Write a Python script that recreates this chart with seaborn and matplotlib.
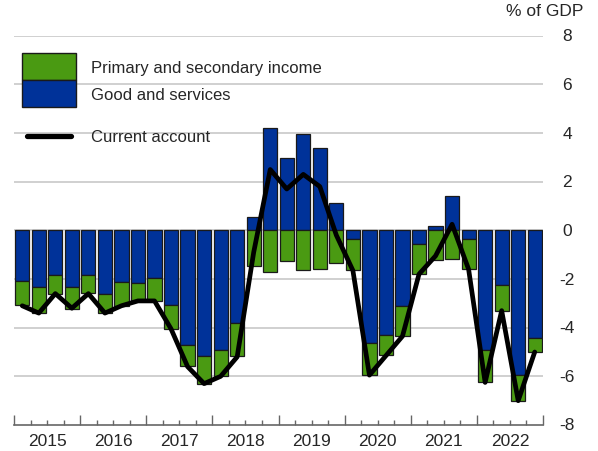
import matplotlib
matplotlib.use("Agg")
import matplotlib.pyplot as plt
from matplotlib.patches import Rectangle
from matplotlib.lines import Line2D
from matplotlib.transforms import blended_transform_factory
import seaborn as sns
import numpy as np
import pandas as pd

# 2015 Q1 ... 2022 Q4
years = [str(y) for y in range(2015, 2023)]
quarters = [f"{y}Q{q}" for y in years for q in range(1, 5)]

goods_services = [-2.08, -2.32, -1.84, -2.33, -1.84, -2.63, -2.12, -2.15,
                  -1.95, -3.08, -4.71, -5.16, -4.93, -3.81, 0.55, 4.20,
                  2.96, 3.96, 3.38, 1.14, -0.37, -4.62, -4.32, -3.11,
                  -0.58, 0.18, 1.41, -0.34, -4.92, -2.26, -5.96, -4.41]
income = [-1.00, -1.06, -0.77, -0.89, -0.75, -0.75, -0.98, -0.75,
          -0.96, -0.99, -0.87, -1.17, -1.06, -1.37, -1.47, -1.70,
          -1.26, -1.65, -1.58, -1.33, -1.27, -1.34, -0.82, -1.23,
          -1.20, -1.23, -1.16, -1.26, -1.31, -1.06, -1.05, -0.59]
current_account = [-3.1, -3.4, -2.6, -3.2, -2.6, -3.4, -3.1, -2.9,
                   -2.9, -4.05, -5.6, -6.3, -6.0, -5.2, -0.9, 2.5,
                   1.7, 2.3, 1.8, -0.2, -1.65, -5.95, -5.15, -4.35,
                   -1.8, -1.05, 0.25, -1.6, -6.25, -3.3, -7.0, -5.0]
y_ticks = [-8, -6, -4, -2, 0, 2, 4, 6, 8]

GREEN = "#4a9a12"
BLUE = "#003299"
EDGE = "#1a1a1a"

df = pd.DataFrame({"quarter": quarters, "goods": goods_services,
                   "income": income, "ca": current_account})
df["pos"] = np.arange(len(df))
# income stacks below goods when goods are negative, otherwise from zero
df["income_base"] = df["goods"].clip(upper=0)

sns.set_style("white")
plt.rcParams["font.family"] = ["Liberation Sans", "DejaVu Sans"]

fig = plt.figure(figsize=(5.98, 4.52), dpi=100)
W, H = 598, 452
ax = fig.add_axes([14 / W, 1 - 426 / H, (543 - 14) / W, (426 - 36.7) / H])

for y in y_ticks[1:]:
    ax.axhline(y, color="#c8c8c8", lw=1.2, zorder=0)

sns.barplot(data=df, x="quarter", y="goods", color=BLUE, saturation=1,
            width=0.86, edgecolor=EDGE, linewidth=0.9, ax=ax, zorder=2)
sns.barplot(data=df, x="quarter", y="income", bottom=df["income_base"],
            color=GREEN, saturation=1, width=0.86, edgecolor=EDGE,
            linewidth=0.9, ax=ax, zorder=2)
sns.lineplot(data=df, x="pos", y="ca", color="black", lw=3.4, ax=ax,
             zorder=3)

ax.set_xlim(-0.5, len(df) - 0.5)
ax.set_ylim(-8, 8)
ax.set_xlabel("")
ax.set_ylabel("")

# y labels on the right, centered in their column
ax.set_yticks(y_ticks)
ax.set_yticklabels([])
ax.tick_params(axis="y", length=0)
ytr = blended_transform_factory(fig.transFigure, ax.transData)
for y in y_ticks:
    ax.text(567 / W, y, str(y), transform=ytr, ha="center", va="center",
            fontsize=12.5)

# x axis: year ticks and quarter ticks pointing up
ax.set_xticks(np.arange(-0.5, len(df), 4))
ax.set_xticks(np.arange(-0.5, len(df), 1), minor=True)
ax.set_xticklabels([])
ax.tick_params(axis="x", which="both", bottom=True, direction="in",
               color="#666666", width=1)
ax.tick_params(axis="x", which="major", length=7)
ax.tick_params(axis="x", which="minor", length=3.5)
for i, yr in enumerate(years):
    ax.text(i * 4 + 1.5, -8.62, yr, ha="center", va="center",
            fontsize=12.5)

for s in ["top", "left", "right"]:
    ax.spines[s].set_visible(False)
ax.spines["bottom"].set_color("#666666")
ax.spines["bottom"].set_linewidth(1.2)

fig.text(583 / W, 1 - 12 / H, "% of GDP", ha="right", va="center",
         fontsize=12.5)

# legend drawn by hand
ft = fig.transFigure
fig.patches.append(Rectangle((22 / W, 1 - 81 / H), 54 / W, 27 / H,
                             facecolor=GREEN, edgecolor=EDGE, lw=1,
                             transform=ft, zorder=5))
fig.patches.append(Rectangle((22 / W, 1 - 108 / H), 54 / W, 27 / H,
                             facecolor=BLUE, edgecolor=EDGE, lw=1,
                             transform=ft, zorder=5))
fig.lines.append(Line2D([27 / W, 71 / W], [1 - 136.7 / H] * 2, color="black",
                        lw=3.8, transform=ft, zorder=5))
fig.text(91 / W, 1 - 68 / H, "Primary and secondary income", va="center",
         fontsize=12)
fig.text(91 / W, 1 - 95 / H, "Good and services", va="center", fontsize=12)
fig.text(91 / W, 1 - 137 / H, "Current account", va="center", fontsize=12)

fig.savefig("out.png", dpi=100)
